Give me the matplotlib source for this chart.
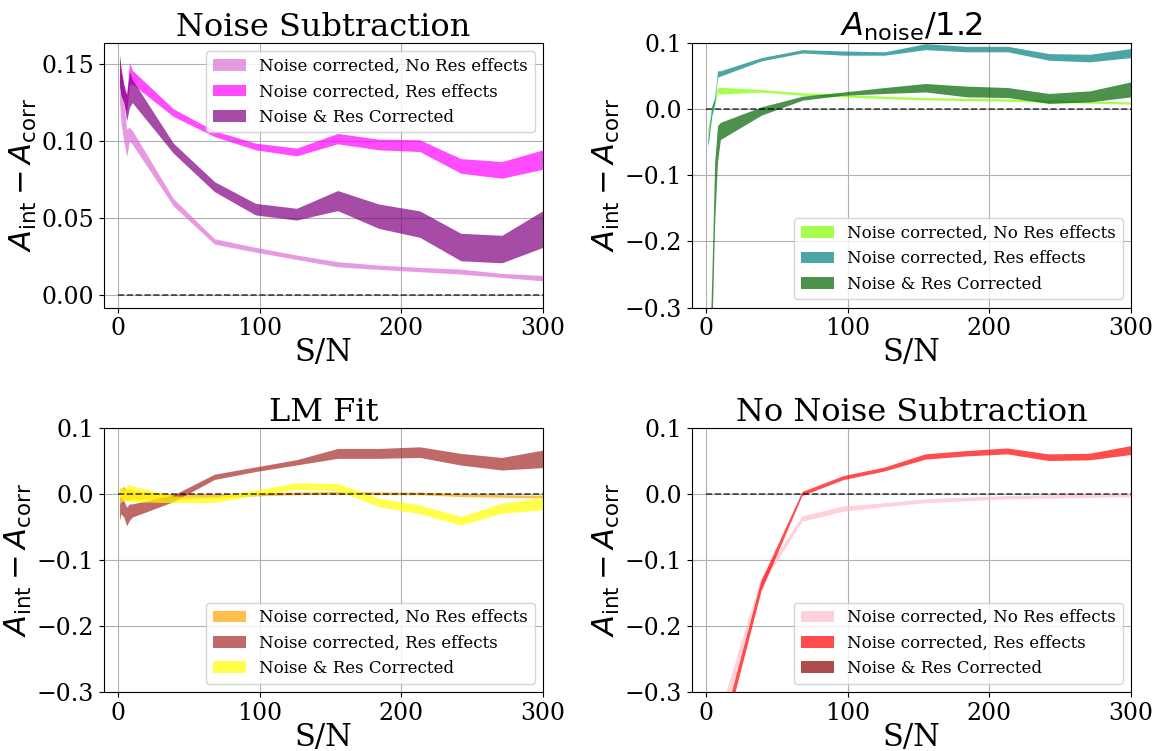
"""Offset of integrated amplitude vs S/N for four correction schemes."""

import numpy as np
import matplotlib
matplotlib.use('Agg')
import matplotlib.pyplot as plt

plt.rcParams['font.family'] = 'serif'
plt.rcParams['mathtext.fontset'] = 'dejavusans'

# <------------------------------ Data ------------------------------------->
sn = [1, 2, 4, 6, 8, 10, 39, 68, 97, 126, 155, 184, 213, 242, 271, 300]

labels = ['Noise corrected, No Res effects',
          'Noise corrected, Res effects',
          'Noise & Res Corrected']

# Noise Subtraction
ns_nores_lo = [0.125, 0.112, 0.100, 0.090, 0.100, 0.098, 0.058, 0.0333, 0.0281,
               0.0234, 0.0186, 0.0169, 0.0154, 0.0139, 0.0117, 0.0095]
ns_nores_hi = [0.150, 0.135, 0.125, 0.108, 0.109, 0.107, 0.0628, 0.0368, 0.0312,
               0.0262, 0.0219, 0.0197, 0.0182, 0.0171, 0.0143, 0.013]
ns_res_lo = [0.138, 0.130, 0.125, 0.118, 0.137, 0.137, 0.116, 0.103, 0.0944,
             0.0905, 0.0983, 0.0944, 0.0933, 0.0792, 0.076, 0.0818]
ns_res_hi = [0.155, 0.145, 0.135, 0.130, 0.151, 0.146, 0.121, 0.1067, 0.0987,
             0.0955, 0.105, 0.1013, 0.1009, 0.0887, 0.0868, 0.0944]
ns_both_lo = [0.136, 0.130, 0.125, 0.113, 0.122, 0.125, 0.0922, 0.0673, 0.0522,
              0.0489, 0.055, 0.0435, 0.0377, 0.0225, 0.0212, 0.0312]
ns_both_hi = [0.156, 0.148, 0.137, 0.130, 0.145, 0.140, 0.0987, 0.0738, 0.0597,
              0.0565, 0.068, 0.0593, 0.0548, 0.0403, 0.039, 0.055]

# A_noise / 1.2
an_nores_lo = [-0.040, -0.030, -0.005, 0.005, 0.025, 0.023, 0.0257, 0.021, 0.0186,
               0.016, 0.014, 0.013, 0.012, 0.0106, 0.009, 0.0076]
an_nores_hi = [-0.030, -0.020, 0.005, 0.015, 0.033, 0.033, 0.0297, 0.0247, 0.0222,
               0.0196, 0.0176, 0.0166, 0.0156, 0.014, 0.0126, 0.011]
an_res_lo = [-0.056, -0.045, -0.010, 0.008, 0.048, 0.050, 0.073, 0.085, 0.0816,
             0.0816, 0.090, 0.0867, 0.0867, 0.074, 0.0715, 0.078]
an_res_hi = [-0.046, -0.030, 0.005, 0.018, 0.058, 0.058, 0.078, 0.090, 0.088,
             0.0867, 0.099, 0.095, 0.095, 0.084, 0.083, 0.0917]
an_both_lo = [-0.50, -0.45, -0.34, -0.17, -0.08, -0.046, -0.009, 0.0136, 0.021,
              0.0237, 0.026, 0.0186, 0.0176, 0.0086, 0.011, 0.0186]
an_both_hi = [-0.45, -0.40, -0.25, -0.08, -0.025, -0.020, 0.0035, 0.0196, 0.026,
              0.0327, 0.0388, 0.0348, 0.0327, 0.0237, 0.0277, 0.0413]

# LM Fit
lm_nores_lo = [-0.012, -0.010, -0.008, -0.010, -0.008, -0.008, -0.008, -0.006,
               -0.003, -0.001, 0.000, -0.001, -0.001, -0.004, -0.005, -0.006]
lm_nores_hi = [0.010, 0.008, 0.012, 0.006, 0.008, 0.005, 0.000, 0.000,
               0.002, 0.003, 0.004, 0.003, 0.003, 0.000, -0.001, -0.002]
lm_res_lo = [-0.040, -0.030, -0.035, -0.048, -0.040, -0.035, -0.0116, 0.022, 0.034,
             0.044, 0.054, 0.054, 0.0554, 0.0438, 0.0363, 0.040]
lm_res_hi = [-0.005, -0.005, -0.010, -0.020, -0.015, -0.015, -0.0015, 0.030, 0.041,
             0.052, 0.069, 0.069, 0.0715, 0.0615, 0.0554, 0.0665]
lm_both_lo = [-0.015, -0.012, -0.010, -0.010, -0.012, -0.012, -0.013, -0.013,
              -0.0015, 0.007, 0.005, -0.019, -0.030, -0.047, -0.029, -0.024]
lm_both_hi = [0.008, 0.010, 0.005, 0.012, 0.015, 0.012, -0.003, -0.004,
              0.006, 0.017, 0.016, -0.0065, -0.0166, -0.034, -0.014, -0.005]

# No Noise Subtraction
nn_nores_lo = [-1.40, -1.10, -0.80, -0.60, -0.45, -0.36, -0.140, -0.042, -0.027,
               -0.020, -0.014, -0.011, -0.008, -0.007, -0.006, -0.005]
nn_nores_hi = [-1.30, -1.00, -0.72, -0.54, -0.41, -0.33, -0.127, -0.034, -0.019,
               -0.014, -0.008, -0.0055, -0.003, -0.002, -0.001, 0.000]
nn_res_lo = [-1.50, -1.20, -0.90, -0.68, -0.50, -0.390, -0.148, -0.003, 0.021,
             0.034, 0.052, 0.057, 0.060, 0.050, 0.051, 0.059]
nn_res_hi = [-1.45, -1.15, -0.86, -0.65, -0.48, -0.366, -0.132, 0.003, 0.027,
             0.040, 0.060, 0.065, 0.069, 0.060, 0.061, 0.0725]
# no values survive for the fully corrected case here
nn_both_lo = []
nn_both_hi = []

# <----------------------------- Plotting ---------------------------------->
panels = [
    ('Noise Subtraction', ['orchid', 'magenta', 'purple'],
     [(ns_nores_lo, ns_nores_hi), (ns_res_lo, ns_res_hi), (ns_both_lo, ns_both_hi)],
     (-0.0078, 0.1636), 'upper right'),
    (r'$A_{\rm noise}/1.2$', ['chartreuse', 'teal', 'darkgreen'],
     [(an_nores_lo, an_nores_hi), (an_res_lo, an_res_hi), (an_both_lo, an_both_hi)],
     (-0.3, 0.1), 'lower right'),
    ('LM Fit', ['orange', 'brown', 'yellow'],
     [(lm_nores_lo, lm_nores_hi), (lm_res_lo, lm_res_hi), (lm_both_lo, lm_both_hi)],
     (-0.3, 0.1), 'lower right'),
    ('No Noise Subtraction', ['pink', 'red', 'darkred'],
     [(nn_nores_lo, nn_nores_hi), (nn_res_lo, nn_res_hi), (nn_both_lo, nn_both_hi)],
     (-0.3, 0.1), 'lower right'),
]

# axes boxes in figure fractions (left, bottom, width, height)
boxes = [
    (0.0898, 0.5905, 0.3791, 0.3522),
    (0.5976, 0.5905, 0.3791, 0.3522),
    (0.0898, 0.0786, 0.3791, 0.3515),
    (0.5976, 0.0786, 0.3791, 0.3515),
]

fig = plt.figure(figsize=(11.58, 7.51), dpi=100)

for i, (title, colors, bands, ylim, loc) in enumerate(panels):
    ax = fig.add_axes(boxes[i])
    for (lo, hi), c, lab in zip(bands, colors, labels):
        xs = sn[:len(lo)]
        ax.fill_between(xs, lo, hi, color=c, alpha=0.7, lw=0, label=lab)
    ax.hlines(0, 0, sn[-1], colors='k', linestyles='--', lw=1.2, alpha=0.7)
    ax.set_xlim(-10, 300)
    ax.set_ylim(*ylim)
    ax.set_xticks([0, 100, 200, 300])
    ax.grid(True, color='#b0b0b0', lw=0.8)
    ax.set_axisbelow(True)
    ax.tick_params(labelsize=17)
    ax.set_title(title, fontsize=23, pad=3)
    ax.set_ylabel(r'$A_{\rm int} - A_{\rm corr}$', fontsize=22, labelpad=2)
    ax.set_xlabel('S/N', fontsize=22, labelpad=-2)
    ax.legend(loc=loc, fontsize=12)
    if i == 0:
        ax.set_yticks([0.0, 0.05, 0.10, 0.15])
    else:
        ax.set_yticks([-0.3, -0.2, -0.1, 0.0, 0.1])

fig.savefig('out.png', dpi=100)
